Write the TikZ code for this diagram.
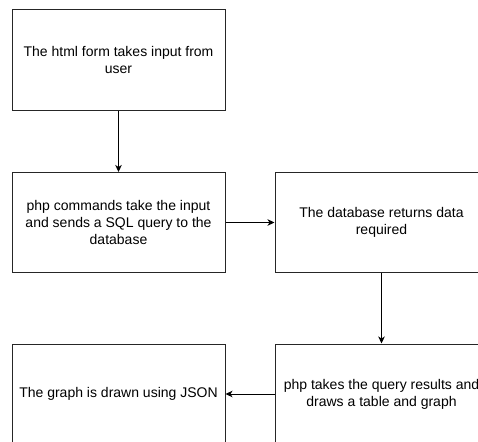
\documentclass[tikz,border=0pt]{standalone}
\usepackage{fontspec}
\setmainfont{Liberation Sans}
\usetikzlibrary{arrows.meta}
\begin{document}
\begin{tikzpicture}[x=1pt,y=-1pt,
  box/.style={draw=black!85,line width=1pt,minimum width=213pt,minimum height=100pt,
    align=center,inner sep=0pt,font=\fontsize{14}{16.8}\selectfont},
  conn/.style={draw=black,line width=1pt,-{Stealth[length=7pt,width=6.5pt,inset=2pt]}}]
\useasboundingbox (0,0) rectangle (478,441);
\clip (0,0) rectangle (478,441);
\node[box] (b1) at (118.5,60) {The html form takes input from\\user};
\node[box] (b2) at (118.5,222.5) {php commands take the input\\and sends a SQL query to the\\database};
\node[box] (b3) at (381.5,222.5) {The database returns data\\required};
\node[box] (b4) at (118.5,394) {The graph is drawn using JSON};
\node[box] (b5) at (381.5,394) {php takes the query results and\\draws a table and graph};
\draw[conn] (b1.south) -- (b2.north);
\draw[conn] (b2.east) -- (b3.west);
\draw[conn] (b3.south) -- (b5.north);
\draw[conn] (b5.west) -- (b4.east);
\end{tikzpicture}
\end{document}
